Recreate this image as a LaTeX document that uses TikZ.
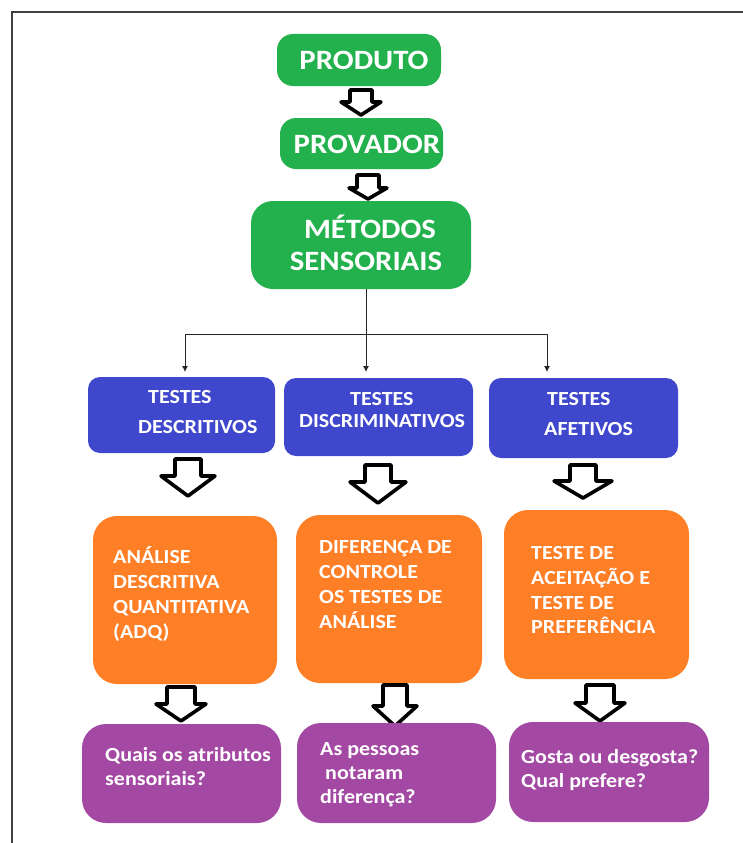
\documentclass[tikz,border=0pt]{standalone}
\usepackage{fontspec}
\setmainfont{Carlito}[FakeStretch=1.1]
\usetikzlibrary{arrows.meta}
\definecolor{pgreen}{HTML}{22B14C}
\definecolor{pblue}{HTML}{3F48CC}
\definecolor{porange}{HTML}{FF7F27}
\definecolor{ppurple}{HTML}{A349A4}
\definecolor{framegray}{HTML}{404040}
\newcommand\blockarrow[6]{%
  \draw[barrow] (#1-#5,#2) -- (#1+#5,#2) -- (#1+#5,#3) -- (#1+#6,#3) -- (#1,#4) -- (#1-#6,#3) -- (#1-#5,#3) -- cycle;}
\tikzset{
  box/.style={draw=none, inner sep=0pt, rounded corners=#1},
  gbox/.style={box=16pt, fill=pgreen},
  bbox/.style={box=12pt, fill=pblue},
  obox/.style={box=24pt, fill=porange},
  vbox/.style={box=24pt, fill=ppurple},
  bigtxt/.style={text=white, font=\fontsize{28}{34}\selectfont\bfseries, inner sep=0pt, anchor=base},
  txt/.style={text=white, font=\fontsize{20}{25}\selectfont\bfseries, inner sep=0pt, anchor=base west},
  barrow/.style={draw=black, fill=white, line width=3.6pt, line join=round},
  conn/.style={draw=black!85, line width=0.9pt, -{Latex[length=6pt,width=6pt]}},
}
\begin{document}
\begin{tikzpicture}[x=1pt,y=-1pt]
\useasboundingbox (0,0) rectangle (743,843);
% frame
\draw[framegray, line width=2.6pt] (12,845) -- (12,12) -- (745,12);

% green boxes
\node[gbox, minimum width=164pt, minimum height=52pt] (produto) at (359,60) {};
\node[bigtxt] (tprod) at (364,70) {PRODUTO};
\node[gbox, minimum width=163pt, minimum height=51pt] (provador) at (361.5,143.5) {};
\node[bigtxt] (tprov) at (367,153) {PROVADOR};
\node[gbox, box=22pt, minimum width=220pt, minimum height=88pt] (metodos) at (361,245) {};
\node[bigtxt] (tmet1) at (370,238) {MÉTODOS};
\node[bigtxt] (tmet2) at (366,270) {SENSORIAIS};

\blockarrow{361}{90}{102}{115}{11}{20}
\blockarrow{368}{175}{188}{199}{11}{19}

% branching connectors
\coordinate (split) at (366,334);
\coordinate (tip1) at (185,372);
\coordinate (tip2) at (366,372);
\coordinate (tip3) at (547,372);
\draw[conn] (metodos.south -| split) -- (tip2);
\draw[conn] (split) -| (tip1);
\draw[conn] (split) -| (tip3);

% blue boxes
\node[bbox, minimum width=187pt, minimum height=76pt] (desc) at (181.5,415) {};
\node[bbox, minimum width=189pt, minimum height=78pt] (disc) at (378.5,417) {};
\node[bbox, minimum width=189pt, minimum height=80pt] (afet) at (583.5,418) {};
\node[txt] (d1) at (148,403) {TESTES};
\node[txt] (d2) at (138,433) {DESCRITIVOS};
\node[txt] (s1) at (350,405) {TESTES};
\node[txt] (s2) at (299,427) {DISCRIMINATIVOS};
\node[txt] (a1) at (547,405) {TESTES};
\node[txt] (a2) at (544,435) {AFETIVOS};

\blockarrow{188}{459}{476}{496}{13}{27}
\blockarrow{378}{465}{482}{503}{13}{28}
\blockarrow{583}{465}{481}{498}{13}{29}

% orange boxes
\node[obox, minimum width=184pt, minimum height=168pt] (adq) at (185,600) {};
\node[obox, minimum width=186pt, minimum height=168pt] (dif) at (389,599) {};
\node[obox, minimum width=185pt, minimum height=169pt] (ace) at (596.5,594.5) {};
\node[txt] (q1) at (113,563) {ANÁLISE};
\node[txt] (q2) at (113,588) {DESCRITIVA};
\node[txt] (q3) at (113,613) {QUANTITATIVA};
\node[txt] (q4) at (113,638) {(ADQ)};
\node[txt] (f1) at (319,553) {DIFERENÇA DE};
\node[txt] (f2) at (319,578) {CONTROLE};
\node[txt] (f3) at (319,603) {OS TESTES DE};
\node[txt] (f4) at (319,628) {ANÁLISE};
\node[txt] (c1) at (531,559) {TESTE DE};
\node[txt] (c2) at (531,584) {ACEITAÇÃO E};
\node[txt] (c3) at (531,609) {TESTE DE};
\node[txt] (c4) at (531,633) {PREFERÊNCIA};

\blockarrow{181}{687}{704}{721}{14}{25}
\blockarrow{395}{685}{706}{726}{12}{22}
\blockarrow{600}{685}{703}{721}{14}{25}

% purple boxes
\node[vbox, minimum width=199pt, minimum height=99pt] (attr) at (181.5,773.5) {};
\node[vbox, minimum width=199pt, minimum height=100pt] (pess) at (396.5,773) {};
\node[vbox, minimum width=200pt, minimum height=100pt] (gost) at (609,772) {};
\node[txt] (p1) at (105,761) {Quais os atributos};
\node[txt] (p2) at (105,785) {sensoriais?};
\node[txt] (e1) at (320,755) {As pessoas};
\node[txt] (e2) at (325,779) {notaram};
\node[txt] (e3) at (320,803) {diferença?};
\node[txt] (g1) at (521,763) {Gosta ou desgosta?};
\node[txt] (g2) at (521,787) {Qual prefere?};
\end{tikzpicture}
\end{document}
